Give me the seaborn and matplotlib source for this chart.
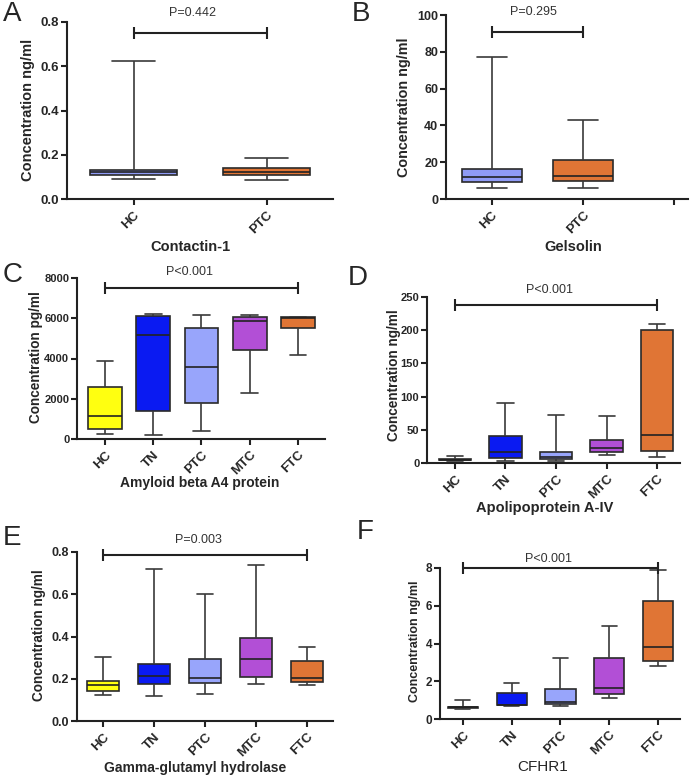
import numpy as np
import pandas as pd
import matplotlib
matplotlib.use("Agg")
import matplotlib.pyplot as plt
import seaborn as sns

sns.set_style("ticks")
plt.rcParams['font.family'] = ['Liberation Sans', 'DejaVu Sans']

# ---------------- data: five-number summaries [min, Q1, median, Q3, max] ----------------
groups_two = ["HC", "PTC"]
groups_five = ["HC", "TN", "PTC", "MTC", "FTC"]

contactin = [[0.09, 0.11, 0.12, 0.13, 0.625],
             [0.085, 0.11, 0.12, 0.14, 0.185]]
gelsolin = [[6, 9, 12, 16.5, 77],
            [6, 10, 12.5, 21, 43]]
amyloid = [[250, 500, 1150, 2600, 3900],
           [200, 1380, 5150, 6100, 6200],
           [420, 1780, 3580, 5500, 6180],
           [2300, 4420, 5850, 6080, 6170],
           [4180, 5500, 6000, 6050, 6080]]
apoa4 = [[3, 4, 5, 6, 10],
         [3, 7, 17, 40, 90],
         [3, 6, 9, 17, 73],
         [12, 17, 22, 34, 71],
         [9, 18, 42, 200, 209]]
ggh = [[0.125, 0.14, 0.17, 0.19, 0.305],
       [0.12, 0.175, 0.215, 0.27, 0.72],
       [0.13, 0.18, 0.205, 0.295, 0.60],
       [0.175, 0.21, 0.295, 0.395, 0.74],
       [0.17, 0.185, 0.205, 0.285, 0.35]]
cfhr1 = [[0.55, 0.60, 0.63, 0.65, 1.0],
         [0.68, 0.72, 0.75, 1.4, 1.9],
         [0.68, 0.82, 0.90, 1.58, 3.22],
         [1.10, 1.30, 1.65, 3.22, 4.95],
         [2.80, 3.05, 3.80, 6.25, 7.90]]

p_texts = ["P=0.442", "P=0.295", "P<0.001", "P<0.001", "P=0.003", "P<0.001"]
xlabels = ["Contactin-1", "Gelsolin", "Amyloid beta A4 protein",
           "Apolipoprotein A-IV", "Gamma-glutamyl hydrolase", "CFHR1"]
ylabels = ["Concentration ng/ml", "Concentration ng/ml", "Concentration pg/ml",
           "Concentration ng/ml", "Concentration ng/ml", "Concentration ng/ml"]
panel_letters = ["A", "B", "C", "D", "E", "F"]

colors_two = ["#8f9bf5", "#e07535"]
colors_five = ["#ffff10", "#0a1af2", "#98a5fb", "#b24fd6", "#e07535"]

W, H = 693, 782
fig = plt.figure(figsize=(W / 100, H / 100), dpi=100)


def add_ax(left, right, top, bottom):
    return fig.add_axes([left / W, 1 - bottom / H, (right - left) / W, (bottom - top) / H])


def make_df(groups, stats):
    rows = []
    for g, s in zip(groups, stats):
        for v in s:
            rows.append({"group": g, "value": v})
    return pd.DataFrame(rows)


def draw_panel(ax, groups, stats, colors, width, ylim, yticks, xlim, ytickfmt,
               bracket, ptext_pos, ptext, tick_fs, extra_tick=False):
    df = make_df(groups, stats)
    sns.boxplot(data=df, x="group", y="value", hue="group", palette=colors,
                order=groups, hue_order=groups, legend=False,
                whis=(0, 100), width=width, saturation=1, linewidth=1.2,
                linecolor="#2a2a2a", ax=ax,
                medianprops=dict(color="#222222", linewidth=1.2),
                whiskerprops=dict(color="#3a3a3a", linewidth=1.2),
                capprops=dict(color="#3a3a3a", linewidth=1.2))
    ax.set_ylim(*ylim)
    ax.set_yticks(yticks)
    ax.set_yticklabels([ytickfmt(t) for t in yticks], fontweight="bold", fontsize=tick_fs)
    ax.set_xlim(*xlim)
    if extra_tick:
        ax.set_xticks(list(range(len(groups) + 1)))
        ax.set_xticklabels(groups + [""])
    else:
        ax.set_xticks(list(range(len(groups))))
        ax.set_xticklabels(groups)
    for lab in ax.get_xticklabels():
        lab.set_rotation(45)
        lab.set_ha("right")
        lab.set_rotation_mode("anchor")
        lab.set_fontweight("bold")
        lab.set_fontsize(9.5)
    ax.set_xlabel("")
    ax.set_ylabel("")
    sns.despine(ax=ax)
    for sp in ["left", "bottom"]:
        ax.spines[sp].set_linewidth(1.5)
        ax.spines[sp].set_color("#222222")
    ax.tick_params(axis="both", direction="out", length=4, width=1.5, color="#222222", pad=1.5)
    ax.tick_params(axis="x", pad=3)
    # bracket
    x0, x1, yb = bracket
    ax.plot([x0, x1], [yb, yb], color="#222222", lw=1.5, clip_on=False,
            marker="|", markersize=8, markeredgewidth=1.5)
    ax.text(ptext_pos[0], ptext_pos[1], ptext, ha="center", va="center",
            fontsize=9, color="#333333")


fmt_dec = lambda t: f"{t:.1f}"
fmt_int = lambda t: f"{int(round(t))}"

# A
axA = add_ax(67, 333, 22, 199)
draw_panel(axA, groups_two, contactin, colors_two, 0.66, (0, 0.8),
           [0, 0.2, 0.4, 0.6, 0.8], (-0.5, 1.5), fmt_dec,
           (0, 1, 0.75), (0.44, 0.84), p_texts[0], 9.5)
# B
axB = add_ax(446, 688, 15, 199)
draw_panel(axB, groups_two, gelsolin, colors_two, 0.66, (0, 100),
           [0, 20, 40, 60, 80, 100], (-0.5, 2.15), fmt_int,
           (0, 1, 91), (0.46, 101.5), p_texts[1], 9, extra_tick=True)
# C
axC = add_ax(77, 325, 278, 439)
draw_panel(axC, groups_five, amyloid, colors_five, 0.7, (0, 8000),
           [0, 2000, 4000, 6000, 8000], (-0.58, 4.56), fmt_int,
           (0, 4, 7500), (1.75, 8320), p_texts[2], 8)
# D
axD = add_ax(427, 680, 297, 463)
draw_panel(axD, groups_five, apoa4, colors_five, 0.64, (0, 250),
           [0, 50, 100, 150, 200, 250], (-0.55, 4.45), fmt_int,
           (0, 4, 238), (1.88, 261), p_texts[3], 8)
# E
axE = add_ax(77, 333, 552, 721)
draw_panel(axE, groups_five, ggh, colors_five, 0.62, (0, 0.8),
           [0, 0.2, 0.4, 0.6, 0.8], (-0.51, 4.51), fmt_dec,
           (0, 4, 0.785), (1.88, 0.857), p_texts[4], 9)
# F
axF = add_ax(440, 680, 568, 719)
draw_panel(axF, groups_five, cfhr1, colors_five, 0.62, (0, 8),
           [0, 2, 4, 6, 8], (-0.47, 4.45), fmt_int,
           (0, 4, 8.0), (1.76, 8.48), p_texts[5], 8.5)


def ftext(x, y, s, **kw):
    fig.text(x / W, 1 - y / H, s, **kw)


# y labels
ylab_pos = [(28, 110), (404, 107), (36, 357), (394, 375), (39, 635), (415, 641)]
ylab_size = [10.5, 10.4, 9.8, 9.8, 9.8, 9.0]
for (x, y), s, fs in zip(ylab_pos, ylabels, ylab_size):
    ftext(x, y, s, rotation=90, ha="center", va="center", fontsize=fs, fontweight="bold")

# x labels (protein names)
xlab_pos = [(190, 247), (573, 247), (200, 483), (545, 508), (195, 768), (543, 767)]
xlab_weight = ["bold", "bold", "bold", "bold", "bold", "normal"]
xlab_size = [10.5, 10.5, 10, 10.5, 10, 11]
for (x, y), s, w, fs in zip(xlab_pos, xlabels, xlab_weight, xlab_size):
    ftext(x, y, s, ha="center", va="center", fontsize=fs, fontweight=w)

# panel letters
letter_pos = [(3, 14), (352, 14), (3, 275), (348, 278), (3, 538), (357, 532)]
for (x, y), s in zip(letter_pos, panel_letters):
    ftext(x, y, s, ha="left", va="center", fontsize=20)

fig.savefig("out.png", dpi=100)
